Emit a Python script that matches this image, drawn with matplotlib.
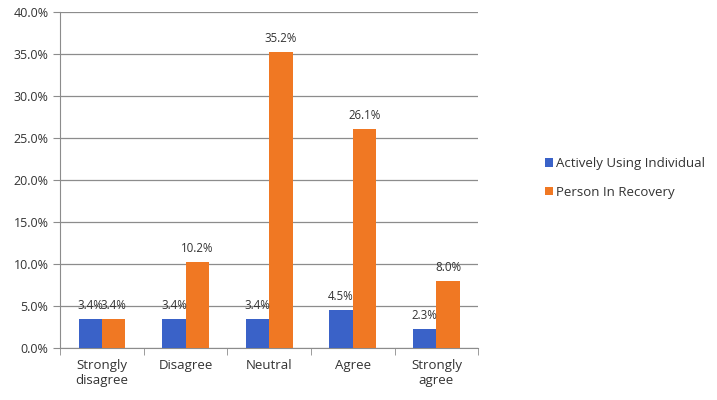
import numpy as np
import matplotlib
matplotlib.use("Agg")
import matplotlib.pyplot as plt
from matplotlib.ticker import FuncFormatter, MultipleLocator

plt.rcParams['font.family'] = ['Open Sans', 'DejaVu Sans']

# Datos del gráfico
categorias = ['Strongly\ndisagree', 'Disagree', 'Neutral', 'Agree', 'Strongly\nagree']
activos = [3.4, 3.4, 3.4, 4.5, 2.3]
recuperacion = [3.4, 10.2, 35.2, 26.1, 8.0]
series = ['Actively Using Individual', 'Person In Recovery']
colores = ['#3A62C8', '#F07823']

fig = plt.figure(figsize=(7.17, 4.0), dpi=100)
ax = fig.add_axes([0.084, 0.13, 0.583, 0.84])

x = np.arange(len(categorias))
ancho = 0.28
b1 = ax.bar(x - ancho / 2, activos, ancho, color=colores[0], label=series[0], zorder=3)
b2 = ax.bar(x + ancho / 2, recuperacion, ancho, color=colores[1], label=series[1], zorder=3)

# Etiquetas de valores
for barras, vals in [(b1, activos), (b2, recuperacion)]:
    for rect, v in zip(barras, vals):
        ax.annotate(f'{v:.1f}%', (rect.get_x() + rect.get_width() / 2, v),
                    xytext=(0, 5), textcoords='offset points',
                    ha='center', va='bottom', fontsize=8.3, color='#333333', zorder=4)

ax.set_ylim(0, 40)
ax.set_xlim(-0.5, len(categorias) - 0.5)
ax.yaxis.set_major_locator(MultipleLocator(5))
ax.yaxis.set_major_formatter(FuncFormatter(lambda v, p: f'{v:.1f}%'))
ax.grid(axis='y', color='#8c8c8c', linewidth=0.9, zorder=0)

ax.set_xticks(x)
ax.set_xticklabels(categorias, fontsize=9.5, color='#333333')
ax.set_xticks(np.arange(len(categorias) + 1) - 0.5, minor=True)
ax.tick_params(axis='x', which='major', length=0, pad=8)
ax.tick_params(axis='x', which='minor', length=5, color='#8c8c8c')
ax.tick_params(axis='y', length=5, color='#8c8c8c', labelsize=9, labelcolor='#333333')

for lado in ['top', 'right']:
    ax.spines[lado].set_visible(False)
for lado in ['left', 'bottom']:
    ax.spines[lado].set_color('#8c8c8c')

fig.legend(loc='center left', bbox_to_anchor=(0.743, 0.555), frameon=False,
           fontsize=9.5, handlelength=0.6, handleheight=0.6, handletextpad=0.3,
           labelspacing=1.2, labelcolor='#333333')

fig.savefig('out.png', dpi=100)
